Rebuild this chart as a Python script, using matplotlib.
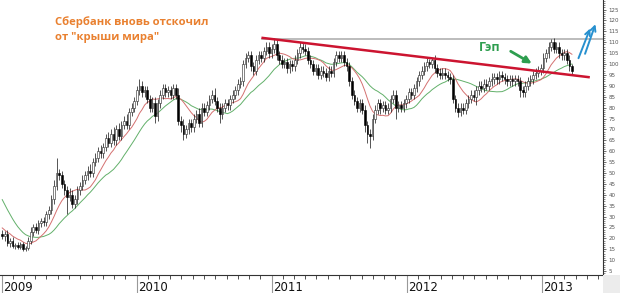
import numpy as np
import pandas as pd
import matplotlib
matplotlib.use("Agg")
import matplotlib.pyplot as plt
import matplotlib.dates as mdates
from matplotlib.ticker import MultipleLocator
from matplotlib.transforms import blended_transform_factory
from matplotlib.patches import Rectangle

# weekly closes of SBER, Jan 2009 - Mar 2013
closes = [
    21, 22, 18, 19, 16.5, 17, 16, 17.5, 15, 15.5,
    19, 23, 25, 24, 27, 28, 27.5, 31, 33, 38,
    44, 50, 49, 45, 42, 39, 40, 36, 38, 42,
    44, 47, 49, 51, 50, 55, 57, 60, 59, 62,
    66, 64, 68, 65, 70, 67, 72, 74, 72, 78,
    80, 83, 88, 90, 87, 88, 84, 80, 82, 76,
    82, 86, 89, 87, 88, 86, 89, 86, 74, 72,
    68, 70, 73, 71, 75, 77, 73, 80, 78, 81,
    84, 86, 83, 80, 77, 80, 82, 81, 84, 86,
    88, 91, 92, 100, 103, 104, 99, 97, 102, 104,
    103, 106, 108, 105, 107, 109, 104, 102, 100, 101,
    98, 100, 99, 102, 105, 108, 107, 106, 102, 100,
    97, 98, 95, 97, 96, 94, 97, 96, 101, 104,
    103, 104, 101, 99, 92, 86, 83, 80, 82, 79,
    72, 68, 67, 75, 79, 82, 80, 81, 79, 80,
    84, 86, 80, 81, 80, 82, 84, 87, 86, 89,
    92, 95, 97, 99, 101, 100, 102, 98, 96, 95,
    96, 95, 94, 93, 84, 80, 78, 80, 79, 82,
    84, 86, 85, 88, 90, 89, 91, 90, 92, 93,
    94, 93, 95, 94, 93, 92, 93, 92, 93, 92,
    88, 87, 90, 92, 93, 95, 96, 97, 98, 103,
    105, 108, 110, 107, 108, 105, 104, 105, 102, 99,
    97,
]

# upper / lower shadows above/below the body
wick_up = [
    2, 1.5, 2, 1, 1.5, 1, 1.5, 1, 1, 1,
    1.5, 2, 1.5, 2, 1.5, 1.5, 2, 1.5, 2, 2,
    3, 7, 2, 2, 2, 2, 3, 2, 2, 2,
    2, 2, 2, 2, 3, 2, 2, 2, 3, 2,
    2, 3, 2, 3, 2, 3, 2, 2, 3, 2,
    2, 2, 2, 3, 2, 2, 2, 2, 3, 3,
    2, 2, 2, 2, 2, 2, 2, 2, 3, 2,
    3, 2, 2, 2, 2, 2, 3, 2, 2, 2,
    2, 2, 3, 2, 2, 2, 2, 2, 2, 2,
    2, 2, 2, 2, 2, 2, 2, 2, 2, 2,
    2, 2, 2, 2, 2, 3, 2, 2, 2, 2,
    2, 2, 2, 2, 2, 2, 2, 2, 2, 2,
    2, 2, 2, 2, 2, 2, 2, 2, 2, 2,
    2, 2, 2, 2, 2, 2, 2, 2, 2, 2,
    2, 2, 2, 2, 2, 2, 2, 2, 2, 2,
    2, 2, 2, 2, 2, 2, 2, 2, 2, 2,
    2, 2, 2, 2, 2, 1.5, 1, 2, 2, 2,
    2, 2, 2, 2, 2, 2, 2, 2, 2, 2,
    2, 2, 2, 2, 2, 2, 2, 2, 2, 3,
    2, 2, 2, 2, 2, 2, 2, 2, 2, 2,
    2, 2, 2, 2, 2, 2, 2, 2, 2, 2,
    2, 2, 1.5, 2, 2, 2, 2, 2, 2, 2,
    1,
]
wick_dn = [
    1.5, 2, 1.5, 2, 1, 1.5, 1, 1, 1, 1,
    1, 1.5, 2, 1.5, 2, 2, 2, 2, 2, 2,
    2, 2, 2, 2, 2, 8, 2, 2, 2, 2,
    2, 2, 2, 2, 2, 2, 2, 2, 2, 2,
    2, 2, 2, 2, 2, 2, 2, 2, 2, 2,
    2, 2, 2, 2, 2, 2, 2, 2, 2, 3,
    2, 2, 2, 2, 2, 2, 2, 2, 2, 3,
    3, 2, 2, 2, 2, 2, 2, 2, 2, 2,
    2, 2, 2, 2, 4, 2, 2, 2, 2, 2,
    2, 2, 2, 2, 2, 2, 2, 2, 2, 2,
    2, 2, 2, 2, 2, 2, 2, 2, 2, 2,
    2, 2, 2, 2, 2, 2, 2, 2, 2, 2,
    2, 2, 2, 2, 2, 2, 2, 2, 2, 2,
    2, 2, 2, 2, 2, 2, 2, 2, 2, 2,
    3, 4, 5.5, 2, 2, 2, 3, 2, 2, 2,
    2, 2, 5, 2, 2, 2, 2, 2, 2, 2,
    2, 2, 2, 2, 2, 2, 2, 2, 2, 2,
    2, 2, 2, 2, 2, 2, 2.5, 2, 2, 2,
    2, 2, 2, 4, 2, 2, 2, 2, 2, 2,
    2, 2, 2, 2, 2, 2, 2, 2, 2, 2,
    3, 2, 2, 2, 2, 2, 2, 2, 2, 2,
    2, 2, 2, 2, 2, 2, 2, 2, 2, 2,
    2,
]

# late-2008 closes, only needed to warm up the moving averages
pre_closes = [70, 68, 64, 62, 58, 55, 50, 46, 40, 35,
              30, 32, 28, 26, 27, 24, 23, 22, 23, 22]

# drawn lines / labels (dates, prices)
resist_start, resist_level = "2010-12-04", 111.5
trend_dates = ["2010-12-07", "2013-05-06"]
trend_values = [112.0, 94.0]
years = [2009, 2010, 2011, 2012, 2013]

# ---------------------------------------------------------------
dates = pd.date_range("2009-01-02", periods=len(closes), freq="W-FRI")
c = np.array(closes, dtype=float)
o = np.concatenate([[pre_closes[-1]], c[:-1]])
hi = np.maximum(o, c) + np.array(wick_up)
lo = np.minimum(o, c) - np.array(wick_dn)

allc = pd.Series(pre_closes + closes, dtype=float)
ma_fast = allc.rolling(10).mean().values[len(pre_closes):]
ma_slow = allc.rolling(20).mean().values[len(pre_closes):]

fig = plt.figure(figsize=(6.2, 2.93), dpi=100)
ax = fig.add_axes([0, 18 / 293, 603 / 620, 275 / 293])

ax.plot(dates, ma_slow, color="#62b06a", lw=0.7, zorder=2)
ax.plot(dates, ma_fast, color="#d47070", lw=0.7, zorder=2)

ax.vlines(dates, lo, hi, color="#111111", lw=0.5, zorder=3)
up = c >= o
body_lo = np.minimum(o, c)
body_h = np.maximum(np.abs(c - o), 0.4)
ax.bar(dates[up], body_h[up], bottom=body_lo[up], width=4.4,
       facecolor="white", edgecolor="#222222", lw=0.4, zorder=4)
ax.bar(dates[~up], body_h[~up], bottom=body_lo[~up], width=4.4,
       facecolor="black", edgecolor="black", lw=0.4, zorder=4)

# resistance and falling trend line
x_right = pd.Timestamp("2013-06-14")
ax.plot([pd.Timestamp(resist_start), x_right], [resist_level, resist_level],
        color="#b0b0b0", lw=1.2, zorder=1)
ax.plot(pd.to_datetime(trend_dates), trend_values, color="#cc1430", lw=1.8, zorder=5)

# gap label + arrow
green = "#2e9e4f"
ax.text(pd.Timestamp("2012-08-13"), 107.8, "Гэп", color=green, fontsize=9,
        fontweight="bold", family="Open Sans", ha="center", va="center")
ax.annotate("", xy=(pd.Timestamp("2012-12-10"), 99.6), xytext=(pd.Timestamp("2012-10-01"), 106.5),
            arrowprops=dict(arrowstyle="-|>", color=green, lw=2.0, mutation_scale=10))

# double blue arrow
blue = "#2790cf"
ax.annotate("", xy=(pd.Timestamp("2013-05-13"), 117.5), xytext=(pd.Timestamp("2013-04-06"), 101.5),
            arrowprops=dict(arrowstyle="->", color=blue, lw=1.4, mutation_scale=9))
ax.annotate("", xy=(pd.Timestamp("2013-05-27"), 119.5), xytext=(pd.Timestamp("2013-04-24"), 103.5),
            arrowprops=dict(arrowstyle="->", color=blue, lw=1.4, mutation_scale=9))

fig.text(55 / 620, 1 - 22 / 293, "Сбербанк вновь отскочил", color="#e9802f",
         fontsize=8.1, fontweight="bold", family="Open Sans", va="center")
fig.text(55 / 620, 1 - 38 / 293, "от \"крыши мира\"", color="#e9802f",
         fontsize=8.1, fontweight="bold", family="Open Sans", va="center")

# axes look
ax.set_xlim(pd.Timestamp("2008-12-27"), x_right)
ax.set_ylim(3.2, 129.4)
for s in ("left", "top"):
    ax.spines[s].set_visible(False)
ax.spines["right"].set_color("#333333")
ax.spines["bottom"].set_color("#333333")
ax.spines["right"].set_linewidth(0.8)
ax.spines["bottom"].set_linewidth(0.8)

ax.yaxis.tick_right()
ax.yaxis.set_major_locator(MultipleLocator(5))
ax.yaxis.set_minor_locator(MultipleLocator(1))
ax.set_yticks(np.arange(5, 126, 5))
ax.tick_params(axis="y", which="major", length=2.5, width=0.5, labelsize=4,
               labelcolor="#555555", color="#333333", pad=1.5)
ax.tick_params(axis="y", which="minor", length=1.2, width=0.4, color="#333333")

ax.xaxis.set_minor_locator(mdates.MonthLocator())
ax.set_xticks([pd.Timestamp(f"{y}-01-01") for y in years])
ax.set_xticklabels([])
ax.tick_params(axis="x", which="major", length=13, width=0.8, color="#999999")
ax.tick_params(axis="x", which="minor", length=3, width=0.6, color="#333333")
tr = blended_transform_factory(ax.transData, ax.transAxes)
for y in years:
    ax.text(pd.Timestamp(f"{y}-01-04"), -0.045, str(y), transform=tr,
            ha="left", va="center", fontsize=8.5, color="#111111")

fig.patches.append(Rectangle((603 / 620, 0), 17 / 620, 18 / 293, transform=fig.transFigure,
                             facecolor="#ececec", edgecolor="none"))

fig.savefig("out.png", dpi=100)
